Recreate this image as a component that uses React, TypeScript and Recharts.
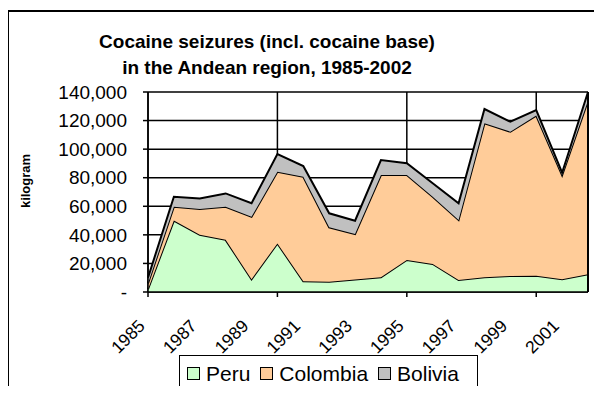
import React from "react";
import {
  AreaChart,
  Area,
  XAxis,
  YAxis,
  CartesianGrid,
  ReferenceLine,
} from "recharts";

const FONT = "Arial, 'Liberation Sans', sans-serif";

const YEARS = [
  "1985", "1986", "1987", "1988", "1989", "1990", "1991", "1992", "1993",
  "1994", "1995", "1996", "1997", "1998", "1999", "2000", "2001", "2002",
];
const PERU = [
  2000, 50000, 40000, 36500, 9000, 34000, 7500, 7200, 8800,
  10300, 22400, 19600, 8400, 10300, 11200, 11400, 8900, 12400,
];
const COLOMBIA = [
  4000, 9700, 18100, 23200, 43700, 50200, 73200, 38100, 31800,
  71600, 59500, 47100, 42000, 107800, 101000, 112100, 72800, 121600,
];
const BOLIVIA = [
  4000, 7000, 7400, 9300, 9400, 12400, 7500, 9800, 9300,
  10500, 8200, 9400, 11700, 10000, 7000, 3900, 1800, 6000,
];
const Y_TICKS = [0, 20000, 40000, 60000, 80000, 100000, 120000, 140000];
const GRID_YEARS = ["1985", "1990", "1995", "2000"];

const SERIES = [
  { key: "Peru", values: PERU, color: "#CCFFCC" },
  { key: "Colombia", values: COLOMBIA, color: "#FFCC99" },
  { key: "Bolivia", values: BOLIVIA, color: "#C0C0C0" },
];

const data = YEARS.map((year, i) => ({
  year,
  Peru: PERU[i],
  Colombia: COLOMBIA[i],
  Bolivia: BOLIVIA[i],
}));

function YearTick(props: any) {
  const { x, y, payload } = props;
  const yr = Number(payload.value);
  const ax = x - 2;
  const ay = y + 35;
  return (
    <g>
      {yr % 5 === 0 && (
        <line x1={x} x2={x} y1={y} y2={y + 5} stroke="#000" strokeWidth={1.5} />
      )}
      {yr % 2 === 1 && (
        <text
          x={ax}
          y={ay}
          transform={`rotate(-45 ${ax} ${ay})`}
          textAnchor="end"
          fontSize={17.5}
          fill="#000"
          fontFamily={FONT}
        >
          {payload.value}
        </text>
      )}
    </g>
  );
}

function AxisTitle(props: any) {
  const { viewBox } = props;
  const cx = viewBox.x + 17;
  const cy = viewBox.y + viewBox.height / 2 - 11;
  return (
    <text
      x={cx}
      y={cy}
      transform={`rotate(-90 ${cx} ${cy})`}
      textAnchor="middle"
      dominantBaseline="central"
      fontSize={13}
      fontWeight="bold"
      fill="#000"
      fontFamily={FONT}
    >
      kilogram
    </text>
  );
}

export default function App() {
  return (
    <div
      style={{
        position: "relative",
        width: 586,
        height: 378,
        overflow: "hidden",
        fontFamily: FONT,
        background: "#fff",
      }}
    >
      <div
        style={{
          position: "absolute",
          left: -1,
          top: 2,
          width: 700,
          height: 500,
          border: "2px solid #000",
        }}
      />
      <div
        style={{
          position: "absolute",
          left: 0,
          top: 21,
          width: 518,
          textAlign: "center",
          fontSize: 19,
          fontWeight: "bold",
          lineHeight: "26px",
        }}
      >
        Cocaine seizures (incl. cocaine base)
        <br />
        in the Andean region, 1985-2002
      </div>

      <AreaChart
        width={586}
        height={378}
        data={data}
        margin={{ top: 84, right: 6, bottom: 0, left: 0 }}
        style={{ position: "absolute", left: 0, top: 0 }}
      >
        <CartesianGrid
          stroke="#000"
          strokeWidth={1.5}
          verticalValues={GRID_YEARS}
        />
        <XAxis
          dataKey="year"
          interval={0}
          height={94}
          tickSize={0}
          tickMargin={0}
          tickLine={false}
          axisLine={{ stroke: "#000", strokeWidth: 1.5 }}
          tick={<YearTick />}
        />
        <YAxis
          width={140}
          domain={[0, 140000]}
          ticks={Y_TICKS}
          interval={0}
          tickSize={5}
          tickMargin={16}
          tickLine={{ stroke: "#000", strokeWidth: 1.5 }}
          axisLine={{ stroke: "#000", strokeWidth: 1.5 }}
          tick={{ fontSize: 19, fill: "#000", fontFamily: FONT }}
          tickFormatter={(v: number) => (v === 0 ? "-" : v.toLocaleString("en-US"))}
          label={<AxisTitle />}
        />
        {SERIES.map((s) => (
          <Area
            key={s.key}
            type="linear"
            dataKey={s.key}
            stackId="a"
            fill={s.color}
            fillOpacity={1}
            stroke="#000"
            strokeWidth={2}
            isAnimationActive={false}
          />
        ))}
        <ReferenceLine x="2002" stroke="#000" strokeWidth={2} />
      </AreaChart>

      <div
        style={{
          position: "absolute",
          left: 171,
          top: 347,
          width: 299,
          height: 37,
          boxSizing: "border-box",
          border: "1.5px solid #000",
          display: "flex",
          alignItems: "center",
          paddingLeft: 7,
          fontSize: 21,
          background: "#fff",
        }}
      >
        {SERIES.map((s) => (
          <div key={s.key} style={{ display: "flex", alignItems: "center", marginRight: 10 }}>
            <span
              style={{
                display: "inline-block",
                width: 11,
                height: 11,
                background: s.color,
                border: "1px solid #000",
                marginRight: 6,
              }}
            />
            <span>{s.key}</span>
          </div>
        ))}
      </div>
    </div>
  );
}
